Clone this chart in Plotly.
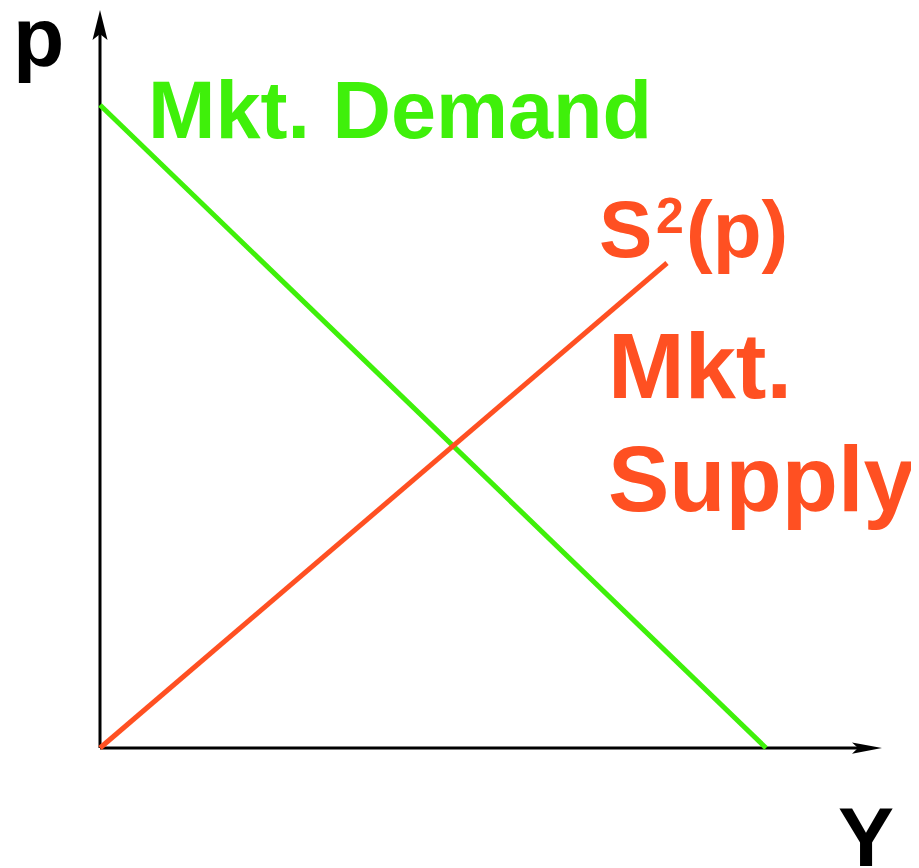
import plotly.graph_objects as go

# Data (origin at intersection of axes)
demand_x = [0, 666]
demand_y = [643, 0]
supply_x = [0, 567]
supply_y = [0, 485]
p_axis_top = 738      # length of price axis
y_axis_right = 782    # length of quantity axis

GREEN = "#3FF00A"
ORANGE = "#FF5022"
FONT = "Liberation Sans, Arial, sans-serif"
HEAD_L, HEAD_W, NOTCH = 30, 7.5, 6   # arrowhead style (px)

fig = go.Figure()
# axes
fig.add_trace(go.Scatter(x=[0, 0], y=[0, p_axis_top - HEAD_L + NOTCH + 1], mode="lines",
                         line=dict(color="black", width=3), hoverinfo="skip"))
fig.add_trace(go.Scatter(x=[0, y_axis_right - HEAD_L + NOTCH + 1], y=[0, 0], mode="lines",
                         line=dict(color="black", width=3), hoverinfo="skip"))
fig.add_trace(go.Scatter(x=demand_x, y=demand_y, mode="lines",
                         line=dict(color=GREEN, width=5), hoverinfo="skip"))
fig.add_trace(go.Scatter(x=supply_x, y=supply_y, mode="lines",
                         line=dict(color=ORANGE, width=5), hoverinfo="skip"))

# arrowheads at the axis ends
t, b, n = p_axis_top, p_axis_top - HEAD_L, p_axis_top - HEAD_L + NOTCH
vpath = f"M0,{t} L{-HEAD_W},{b} L0,{n} L{HEAD_W},{b} Z"
r, bx, nx = y_axis_right, y_axis_right - HEAD_L, y_axis_right - HEAD_L + NOTCH
hw = HEAD_W * 0.75
hpath = f"M{r},0 L{bx},{hw} L{nx},0 L{bx},{-hw} Z"
shapes = [dict(type="path", path=vpath, xref="x", yref="y", fillcolor="black", line=dict(width=0)),
          dict(type="path", path=hpath, xref="x", yref="y", fillcolor="black", line=dict(width=0))]

ann = []

def txt(x, y, s, size, color, xanchor="left", pad=1):
    ann.append(dict(x=x, y=y, xref="x", yref="y", text="<b>%s</b>" % s, showarrow=False,
                    xanchor=xanchor, yanchor="middle", borderpad=pad,
                    font=dict(family=FONT, size=size, color=color)))

txt(46, 638, "Mkt. Demand", 81, GREEN)
txt(498, 519, "S", 80, ORANGE, pad=0)
txt(555, 532, "2", 50, ORANGE, pad=0)
txt(585, 519, "(p)", 80, ORANGE, pad=0)
txt(506, 382, "Mkt.", 92, ORANGE)
txt(506, 269, "Supply", 92, ORANGE)
txt(-61.5, 711, "p", 84, "black", xanchor="center")
txt(766, -89, "Y", 84, "black", xanchor="center")

# page has an 8px body margin: figure covers page pixels 8..919 x 8..868
fig.update_layout(
    width=911, height=860,
    margin=dict(l=0, r=0, t=0, b=0),
    paper_bgcolor="white", plot_bgcolor="white",
    showlegend=False,
    xaxis=dict(range=[-92, 819], visible=False, fixedrange=True),
    yaxis=dict(range=[-120, 740], visible=False, fixedrange=True),
    annotations=ann, shapes=shapes,
)
fig.write_html("out.html")
